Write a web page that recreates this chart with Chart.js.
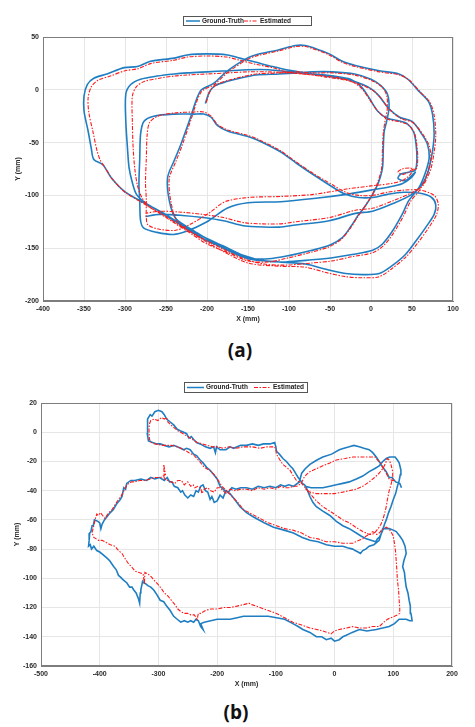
<!DOCTYPE html>
<html>
<head>
<meta charset="utf-8">
<script src="https://cdn.jsdelivr.net/npm/chart.js@4.4.1/dist/chart.umd.min.js"></script>
<style>
  body { margin: 0; background: #fff; width: 475px; height: 727px; position: relative; overflow: hidden; }
  .wrap { position: absolute; left: 0; width: 475px; }
  .cap { position: absolute; font-family: "Open Sans", "Noto Sans", sans-serif; font-weight: 700; font-size: 19px; color: #111; transform: translate(-50%, -50%); }
</style>
</head>
<body>
<div class="wrap" style="top:0;height:324px"><canvas id="chartA" width="475" height="324"></canvas></div>
<div class="cap" style="left:240px;top:350px">(a)</div>
<div class="wrap" style="top:360px;height:330px"><canvas id="chartB" width="475" height="330"></canvas></div>
<div class="cap" style="left:236px;top:712px">(b)</div>
<script>
// tick values
const xTicksA = [-400, -350, -300, -250, -200, -150, -100, -50, 0, 50, 100];
const yTicksA = [-200, -150, -100, -50, 0, 50];
const xTicksB = [-500, -400, -300, -200, -100, 0, 100, 200];
const yTicksB = [-160, -140, -120, -100, -80, -60, -40, -20, 0, 20];

const seriesNames = ['Ground-Truth', 'Estimated'];

const gtA = [
  [-202,-13],[-197,-2],[-190,4],[-175,8],[-160,11],[-140,14],[-112,15],[-90,16],[-72,17],[-47,17],[-20,15],[0,10],[12,4],[20,-4],[22,-17],[19,-30],[16,-40],[15,-55],[14,-74],[9,-88],[2,-99],[-7,-110],[-15,-118],[-25,-130],[-35,-140],[-50,-147],[-72,-152],[-100,-157],[-125,-160],[-150,-159],
  [-175,-151],[-200,-143],[-220,-134],[-240,-124],[-265,-112],[-282,-105],[-301,-96],[-317,-83],[-327,-71],[-338,-66],[-341,-56],[-345,-39],[-350,-20],[-350,-6],[-346,5],[-338,11],[-322,15],[-301,21],[-285,22],[-269,27],[-240,30],[-224,33],[-200,34],[-175,33],[-160,30],
  [-140,26],[-120,22],[-103,19],[-80,16],[-55,13],[-30,10],[-10,5],[2,0],[10,-6],[22,-18],[35,-26],[50,-30],[62,-42],[69,-52],[71,-64],[67,-77],[59,-92],[46,-105],[38,-118],[26,-134],[14,-146],[2,-152],[-23,-156],[-47,-159],[-72,-161],[-104,-163],[-130,-162],[-155,-157],[-180,-148],[-205,-139],[-230,-128],[-255,-116],[-275,-107],
  [-286,-99],[-291,-88],[-295,-74],[-297,-55],[-299,-30],[-299,-4],[-293,5],[-281,10],[-261,13],[-240,15],[-224,16],[-200,17],[-175,18],[-150,19],[-125,19],[-100,17],[-70,15],[-45,13],[-25,10],[-12,3],[-2,-8],[8,-20],[20,-27],[32,-29],[44,-32],[52,-40],[55,-52],[56,-65],[54,-76],
  [46,-78],[36,-80],[33,-84],[42,-86],[54,-78],[48,-84],
  [38,-89],[22,-92],[0,-95],[-30,-99],[-70,-103],[-110,-106],[-150,-107],[-175,-112],[-200,-125],[-225,-134],[-241,-137],[-261,-135],[-277,-131],
  [-281,-124],[-282,-105],[-283,-89],[-282,-65],[-281,-42],[-277,-30],[-265,-25],[-240,-23],[-216,-23],[-204,-23],[-195,-26],[-187,-34],[-175,-39],[-151,-44],[-140,-47],[-112,-58],[-90,-70],[-71,-80],[-47,-92],[-31,-99],[-15,-102],[2,-102],
  [20,-99],[40,-97],[60,-98],[74,-102],[79,-109],[77,-118],[67,-130],[55,-143],[42,-156],[25,-167],[10,-174],[-10,-175],[-31,-174],[-55,-170],[-80,-165],[-112,-163],[-150,-160],[-185,-148],[-215,-134],[-238,-122],[-246,-105],[-248,-83],
  [-240,-67],[-232,-52],[-220,-26],[-208,-1],[-192,6],[-175,18],[-151,30],[-141,33],[-112,38],[-92,42],[-80,42],[-71,40],[-51,34],[-35,27],[-19,23],[10,18],[34,15],[45,10],[58,-1],[70,-11],[75,-23],[77,-42],[75,-58],[71,-74],[67,-83],[62,-90],
  [50,-99],[26,-108],[2,-115],[-19,-117],[-51,-124],[-92,-128],[-112,-130],[-153,-129],[-180,-124],[-205,-121],[-230,-119],[-258,-118],[-275,-120]
];

// (a) estimate
const estA = [
  [-201,-12],[-196,-1],[-188,5],[-174,9],[-159,12],[-140,15],[-112,16],[-90,17],[-72,16],[-47,16],[-20,14],[0,9],[13,3],[19,-5],[20,-17],[17,-30],[15,-41],[14,-55],[13,-74],[8,-88],[1,-100],[-8,-111],[-16,-120],[-26,-132],[-37,-142],[-52,-149],[-74,-154],[-100,-159],[-125,-163],[-150,-162],
  [-175,-154],[-200,-146],[-220,-136],[-240,-126],[-264,-114],[-281,-106],[-300,-97],[-315,-85],[-324,-74],[-330,-67],[-334,-58],[-339,-40],[-344,-22],[-345,-8],[-341,3],[-333,9],[-318,13],[-300,18],[-284,20],[-268,25],[-240,28],[-224,31],[-200,32],[-176,31],[-160,28],
  [-140,24],[-120,21],[-103,17],[-80,15],[-55,12],[-30,9],[-10,4],[3,-1],[11,-7],[23,-19],[36,-27],[51,-31],[64,-43],[71,-53],[73,-65],[69,-78],[61,-93],[48,-106],[40,-119],[28,-135],[16,-147],[3,-154],[-23,-158],[-47,-162],[-72,-164],[-104,-166],[-130,-165],[-155,-160],[-180,-151],[-205,-141],[-230,-130],[-254,-118],[-272,-110],
  [-280,-101],[-285,-90],[-288,-75],[-290,-56],[-291,-31],[-291,-6],[-286,3],[-276,8],[-258,11],[-240,13],[-224,14],[-200,15],[-175,16],[-150,17],[-125,17],[-100,16],[-70,14],[-45,12],[-24,8],[-11,1],[-1,-10],[9,-21],[21,-28],[33,-30],[45,-33],[53,-41],[56,-53],[57,-65],[55,-75],
  [47,-74],[38,-75],[33,-78],[40,-80],[52,-75],[47,-81],
  [38,-86],[22,-89],[0,-91],[-30,-94],[-70,-99],[-110,-101],[-150,-102],[-178,-106],[-198,-117],[-222,-128],[-238,-133],[-258,-132],[-272,-128],
  [-274,-121],[-274,-104],[-275,-88],[-274,-65],[-273,-43],[-270,-31],[-260,-25],[-240,-22],[-216,-21],[-204,-21],[-195,-25],[-187,-33],[-175,-38],[-151,-43],[-140,-46],[-112,-57],[-90,-69],[-71,-79],[-47,-90],[-31,-97],[-15,-100],[2,-100],
  [20,-97],[40,-95],[60,-95],[77,-100],[82,-108],[80,-118],[70,-131],[57,-145],[43,-158],[26,-169],[10,-177],[-10,-178],[-31,-177],[-55,-173],[-80,-168],[-112,-167],[-150,-164],[-185,-151],[-215,-137],[-236,-125],[-244,-106],[-246,-84],
  [-238,-68],[-230,-52],[-219,-27],[-207,-2],[-191,5],[-174,17],[-150,29],[-140,32],[-112,37],[-92,41],[-80,41],[-71,39],[-51,33],[-35,26],[-19,22],[10,17],[35,14],[47,9],[60,-2],[72,-12],[77,-24],[79,-43],[77,-59],[73,-75],[68,-84],[63,-91],
  [51,-97],[27,-105],[3,-112],[-19,-114],[-51,-121],[-92,-125],[-112,-127],[-153,-126],[-180,-121],[-205,-118],[-230,-116],[-258,-115],[-275,-117]
];

// (b) ground truth
const gtB = [
  [114,-38],[111,-35],[104,-34],[98,-31],[93,-31],[88,-27],[82,-24],[76,-20],[71,-17],[65,-14],[59,-12],[50,-11],[42,-10],[33,-9],[25,-10],[16,-11],[8,-12],[-5,-15],[-20,-17],[-30,-19],[-42,-22],[-50,-25],[-56,-28],[-60,-34],
  [-70,-37],[-78,-36],[-85,-37],[-92,-36],[-100,-38],[-110,-37],[-120,-38],[-130,-37],[-140,-39],[-150,-38],[-160,-38],[-168,-39],[-175,-38],[-181,-41],[-185,-40],[-190,-45],[-195,-43],[-200,-47],[-205,-48],[-209,-44],[-212,-46],[-216,-41],[-220,-40],[-224,-36],[-228,-37],[-232,-41],[-236,-40],[-240,-44],[-245,-43],[-250,-45],[-255,-43],[-259,-40],[-262,-41],[-267,-38],[-273,-37],[-277,-34],[-281,-34],[-285,-31],[-290,-33],[-298,-31],[-306,-32],[-313,-31],[-320,-33],[-330,-32],[-340,-33],[-347,-33],[-354,-35],[-356,-39],[-359,-38],[-362,-44],[-365,-46],[-371,-49],[-377,-53],[-382,-55],[-388,-58],[-392,-60],[-396,-63],[-398,-66],[-400,-62],[-403,-61],[-409,-60],[-411,-64],[-413,-64],[-415,-68],[-417,-69],[-418,-74],[-419,-78],[-416,-77],[-414,-80],[-410,-78],[-405,-81],[-400,-82],[-394,-84],[-388,-86],[-383,-88],[-376,-92],[-372,-94],[-368,-98],[-365,-99],[-360,-101],[-354,-103],[-349,-106],[-345,-106],[-342,-108],[-338,-110],[-334,-114],[-332,-117],[-331,-110],[-330,-108],[-327,-102],[-325,-103],[-321,-104],[-318,-105],[-313,-106],[-308,-108],[-303,-111],[-297,-115],[-291,-116],[-286,-119],[-280,-122],[-274,-126],[-268,-128],[-262,-130],[-256,-129],[-250,-130],[-245,-129],[-240,-130],[-236,-128],[-232,-129],[-228,-133],[-224,-135],[-228,-131],[-222,-130],[-211,-129],[-200,-128],[-189,-128],[-178,-128],[-166,-127],[-155,-126],[-141,-126],[-127,-126],[-113,-126],[-99,-127],[-85,-128],[-71,-131],[-62,-133],[-54,-135],[-42,-137],[-31,-140],[-22,-140],[-14,-142],[-6,-141],[0,-143],[8,-142],[14,-140],[20,-139],[30,-137],[42,-135],[55,-136],[71,-135],[82,-134],[93,-133],[102,-131],[110,-128],[116,-128],[122,-128],[128,-129],[132,-129],[131,-126],[130,-124],[129,-119],[127,-115],[125,-110],[122,-106],[120,-100],[119,-96],[116,-92],[118,-88],[122,-83],[120,-78],[116,-74],[111,-71],[105,-68],[100,-67],[93,-66],[88,-66],[82,-66],[79,-70],[76,-74],
  [67,-77],[59,-78],[53,-80],[48,-81],[44,-83],[40,-82],[35,-81],[31,-80],[22,-79],[14,-78],[0,-78],[-14,-77],[-28,-75],[-42,-74],[-55,-72],[-70,-69],[-86,-67],[-104,-65],[-120,-62],[-138,-58],[-150,-55],[-161,-51],[-170,-46],[-178,-42],[-187,-40],[-195,-37],[-200,-32],[-206,-29],[-212,-26],[-218,-24],[-224,-21],[-229,-19],[-235,-16],[-240,-15],[-246,-12],[-252,-11],[-257,-12],[-262,-11],[-268,-10],[-274,-9],[-282,-10],[-290,-9],[-297,-8],[-303,-8],[-310,-7],[-317,-6],[-319,-1],[-319,4],[-318,9],[-314,12],[-311,11],[-306,14],[-300,15],[-294,14],[-290,12],[-286,9],[-280,7],[-274,5],[-268,2],[-263,1],[-257,0],[-252,-1],[-248,-4],[-244,-3],[-240,-5],[-235,-7],[-229,-8],[-220,-10],[-212,-11],[-206,-10],[-203,-14],[-201,-10],[-195,-12],[-185,-12],[-178,-10],[-172,-11],[-160,-9],[-150,-9],[-140,-8],[-130,-9],[-121,-8],[-110,-8],[-102,-7],[-100,-10],[-99,-13],[-94,-15],[-88,-18],[-82,-20],[-76,-23],[-71,-25],[-68,-27],[-65,-29],[-62,-31],[-58,-33],[-55,-35],[-51,-36],[-48,-38],[-45,-41],[-42,-44],[-37,-48],[-31,-51],[-20,-54],[-8,-57],[3,-61],[14,-64],[25,-66],[37,-69],[45,-71],[54,-73],[62,-74],[70,-75],[73,-73],[76,-72],[79,-70],[82,-67],[85,-63],[88,-60],[92,-55],[96,-51],[100,-46],[104,-42],[107,-37],[110,-33],[112,-29],[113,-26],[110,-21],[107,-19],[103,-17],[99,-17],[94,-17],[88,-18],[82,-20],[76,-23],[68,-25],[59,-27],[48,-30],[37,-32],[25,-34],[14,-35],[3,-36],[-8,-37],[-20,-38],[-31,-38],[-40,-38],[-50,-37]
];

// (b) estimate
const estB = [
  [102,-33],[98,-33],[93,-32],[88,-28],[82,-24],[78,-21],[73,-19],[69,-17],[65,-17],[60,-17],[54,-17],[43,-17],[31,-17],[18,-18],[3,-19],[-8,-21],[-20,-23],[-31,-25],[-42,-27],[-48,-29],[-52,-31],[-57,-35],
  [-64,-37],[-70,-37],[-78,-38],[-85,-38],[-92,-37],[-100,-39],[-110,-38],[-120,-39],[-130,-38],[-140,-40],[-150,-39],[-160,-39],[-170,-40],[-178,-39],[-184,-42],[-190,-40],[-195,-38],[-200,-38],[-205,-41],[-211,-40],[-216,-38],[-222,-39],[-226,-42],[-228,-38],[-233,-37],[-238,-38],[-241,-36],[-245,-37],[-250,-34],[-256,-36],[-261,-33],[-267,-33],[-272,-35],[-278,-34],[-284,-33],[-290,-32],[-291,-22],[-288,-29],[-296,-31],[-306,-31],[-314,-32],[-323,-33],[-332,-33],[-340,-34],[-346,-34],[-350,-35],[-354,-36],[-357,-39],[-360,-41],[-364,-44],[-368,-46],[-373,-49],[-379,-53],[-384,-55],[-388,-57],[-391,-59],[-395,-57],[-399,-55],[-402,-57],[-405,-56],[-408,-60],[-410,-64],[-412,-67],[-413,-69],[-411,-71],[-410,-72],[-406,-73],[-402,-74],[-396,-74],[-391,-75],[-382,-77],[-374,-78],[-368,-81],[-362,-83],[-356,-87],[-351,-90],[-346,-92],[-340,-95],[-333,-96],[-326,-97],[-324,-104],[-323,-96],[-318,-97],[-312,-99],[-306,-102],[-301,-104],[-295,-107],[-290,-110],[-284,-112],[-278,-115],[-272,-118],[-267,-121],[-261,-123],[-256,-124],[-250,-124],[-245,-125],[-239,-125],[-234,-128],[-232,-124],[-228,-124],[-220,-122],[-211,-121],[-200,-121],[-189,-120],[-178,-120],[-166,-119],[-155,-118],[-146,-117],[-141,-118],[-134,-119],[-127,-120],[-113,-122],[-99,-124],[-85,-127],[-71,-130],[-56,-132],[-42,-134],[-30,-135],[-20,-136],[-13,-137],[-6,-138],[0,-136],[8,-135],[20,-134],[31,-133],[42,-134],[54,-134],[65,-133],[76,-133],[84,-130],[90,-128],[96,-127],[102,-126],[107,-125],[111,-124],[111,-120],[110,-115],[109,-108],[107,-101],[106,-94],[105,-88],[104,-82],[102,-76],[100,-71],[96,-68],[92,-66],[88,-65],[84,-66],[80,-67],[76,-69],[72,-70],
  [65,-68],[59,-70],[54,-71],[48,-73],[42,-74],[36,-75],[31,-76],[22,-76],[14,-76],[0,-75],[-14,-75],[-28,-73],[-42,-72],[-56,-69],[-71,-67],[-85,-66],[-99,-64],[-113,-62],[-127,-59],[-141,-56],[-155,-53],[-165,-48],[-175,-44],[-184,-40],[-192,-37],[-198,-33],[-205,-29],[-213,-26],[-222,-24],[-230,-20],[-239,-16],[-248,-14],[-256,-12],[-267,-10],[-278,-9],[-292,-9],[-306,-8],[-312,-7],[-315,-5],[-316,-1],[-316,3],[-315,6],[-313,8],[-307,9],[-301,8],[-295,10],[-290,9],[-286,10],[-284,7],[-276,4],[-267,1],[-258,-1],[-250,-3],[-242,-5],[-234,-7],[-225,-8],[-217,-9],[-208,-10],[-200,-10],[-190,-11],[-180,-10],[-168,-11],[-155,-10],[-140,-10],[-127,-11],[-115,-10],[-102,-10],[-100,-12],[-99,-15],[-93,-19],[-88,-22],[-82,-24],[-76,-26],[-70,-30],[-65,-33],[-60,-34],[-56,-35],[-50,-38],[-42,-42],[-31,-47],[-20,-51],[-8,-54],[3,-57],[14,-60],[25,-62],[36,-65],[48,-68],[54,-69],[59,-70],[64,-70],[68,-69],[72,-67],[76,-65],[79,-63],[82,-60],[85,-56],[88,-51],[90,-46],[93,-40],[96,-36],[99,-31],[99,-27],[96,-22],[93,-19],[90,-18],[86,-22],[82,-25],[76,-28],[68,-31],[59,-34],[48,-37],[37,-39],[25,-40],[14,-41],[0,-42],[-20,-42],[-31,-42],[-42,-41],[-52,-38]
];

const BLUE = '#1f7ec2';
const RED = '#ff1a1a';
const tickFont = { family: 'Liberation Sans, Arial, sans-serif', size: 7, weight: 'bold' };

// frame around the plot area + MATLAB-like legend box
const framePlugin = {
  id: 'frame',
  afterDraw(chart, args, opts) {
    const { ctx, chartArea: a } = chart;
    ctx.save();
    ctx.strokeStyle = '#7d7d7d';
    ctx.lineWidth = 1;
    ctx.strokeRect(Math.round(a.left) + 0.5, Math.round(a.top) + 0.5, Math.round(a.right - a.left) - 1, Math.round(a.bottom - a.top) - 1);

    const L = opts.legend;
    if (L) {
      ctx.fillStyle = '#fff';
      ctx.fillRect(L.x, L.y, L.w, L.h);
      ctx.strokeStyle = '#555';
      ctx.strokeRect(L.x + 0.5, L.y + 0.5, L.w, L.h);
      const cy = L.y + L.h / 2 + 0.5;
      ctx.lineWidth = 1.5;
      ctx.strokeStyle = BLUE;
      ctx.beginPath(); ctx.moveTo(L.x + L.s1[0], cy); ctx.lineTo(L.x + L.s1[1], cy); ctx.stroke();
      ctx.lineWidth = 1.1;
      ctx.strokeStyle = RED;
      ctx.setLineDash([4, 1.5, 1.5, 1.5]);
      ctx.beginPath(); ctx.moveTo(L.x + L.s2[0], cy); ctx.lineTo(L.x + L.s2[1], cy); ctx.stroke();
      ctx.setLineDash([]);
      ctx.fillStyle = '#222';
      ctx.font = 'bold 6.5px "Liberation Sans", Arial, sans-serif';
      ctx.textBaseline = 'middle';
      ctx.fillText(seriesNames[0], L.x + L.t1, cy);
      ctx.fillText(seriesNames[1], L.x + L.t2, cy);
    }
    ctx.restore();
  }
};

function toPts(arr) {
  return arr.map(p => ({ x: p[0], y: p[1] }));
}

function makeChart(id, gt, est, xt, yt, pad, tension, legend) {
  const ctx = document.getElementById(id).getContext('2d');
  return new Chart(ctx, {
    type: 'scatter',
    data: {
      datasets: [
        {
          label: seriesNames[0],
          data: toPts(gt),
          showLine: true,
          borderColor: BLUE,
          borderWidth: 1.6,
          pointRadius: 0,
          tension: tension,
          order: 2
        },
        {
          label: seriesNames[1],
          data: toPts(est),
          showLine: true,
          borderColor: RED,
          borderWidth: 1.1,
          borderDash: [4, 1.5, 1.5, 1.5],
          pointRadius: 0,
          tension: tension,
          order: 1
        }
      ]
    },
    options: {
      responsive: false,
      animation: false,
      devicePixelRatio: 1,
      layout: { padding: pad },
      plugins: {
        legend: { display: false },
        tooltip: { enabled: false },
        frame: { legend: legend }
      },
      scales: {
        x: {
          type: 'linear',
          min: xt[0],
          max: xt[xt.length - 1],
          afterBuildTicks: s => { s.ticks = xt.map(v => ({ value: v })); },
          afterFit: s => { s.height = 23; },
          ticks: { font: tickFont, color: '#2b2b2b', padding: 4, maxRotation: 0, autoSkip: false },
          grid: { color: '#e6e6e6', drawTicks: false },
          border: { color: '#7d7d7d' },
          title: { display: true, text: 'X (mm)', font: tickFont, color: '#2b2b2b', padding: { top: 0, bottom: 1 } }
        },
        y: {
          type: 'linear',
          min: yt[0],
          max: yt[yt.length - 1],
          afterBuildTicks: s => { s.ticks = yt.map(v => ({ value: v })); },
          afterFit: s => { s.width = pad.yw; },
          ticks: { font: tickFont, color: '#2b2b2b', padding: 4, autoSkip: false },
          grid: { color: '#e6e6e6', drawTicks: false },
          border: { color: '#7d7d7d' },
          title: { display: true, text: 'Y (mm)', font: tickFont, color: '#2b2b2b', padding: { top: pad.yt, bottom: 0 } }
        }
      }
    },
    plugins: [framePlugin]
  });
}

makeChart('chartA', gtA, estA, xTicksA, yTicksA,
  { top: 37, right: 22, bottom: 0, left: 0, yw: 43, yt: 14 }, 0.3,
  { x: 183, y: 16, w: 128, h: 9, s1: [3, 17], t1: 19, s2: [61, 75], t2: 77 });

makeChart('chartB', gtB, estB, xTicksB, yTicksB,
  { top: 43, right: 23, bottom: 1, left: 0, yw: 41, yt: 13 }, 0,
  { x: 184, y: 22, w: 123, h: 10, s1: [3, 20], t1: 22, s2: [70, 87], t2: 89 });
</script>
</body>
</html>
